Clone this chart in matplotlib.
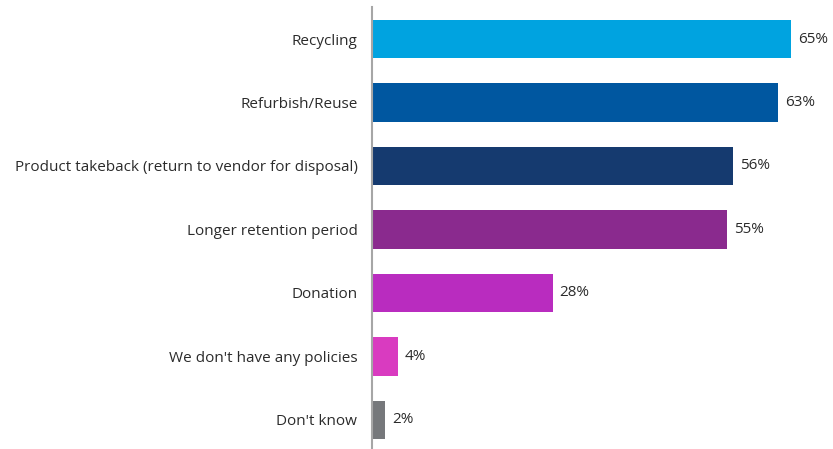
import matplotlib
matplotlib.use("Agg")
import matplotlib.pyplot as plt

categories = ["Recycling", "Refurbish/Reuse", "Product takeback (return to vendor for disposal)",
              "Longer retention period", "Donation", "We don't have any policies", "Don't know"]
values = [65, 63, 56, 55, 28, 4, 2]
colors = ["#00A3E0", "#0057A0", "#153A6F", "#8A2A8E", "#B92CBF", "#D93BC0", "#76787B"]

plt.rcParams['font.family'] = ['Open Sans', 'DejaVu Sans']

W, H = 833, 449
fig = plt.figure(figsize=(W/100, H/100), dpi=100)
ax = fig.add_axes([372/W, 0, 1 - 372/W, 1 - 7/H])

y = list(range(len(categories)))
ax.barh(y, values, height=0.606, color=colors)
ax.set_xlim(0, 461/6.45)
ax.set_ylim(6.457, -0.504)

for yi, v in zip(y, values):
    ax.text(v + 1.1, yi, f"{v}%", va="center", ha="left", fontsize=11, color="#2b2b2b")

ax.set_yticks(y)
ax.set_yticklabels(categories, fontsize=11, color="#2b2b2b")
ax.tick_params(axis="y", length=0, pad=10.5)
ax.set_xticks([])
for s in ["top", "right", "bottom"]:
    ax.spines[s].set_visible(False)
ax.spines["left"].set_color("#A6A6A6")
ax.spines["left"].set_linewidth(1.5)

fig.savefig("out.png", dpi=100)
